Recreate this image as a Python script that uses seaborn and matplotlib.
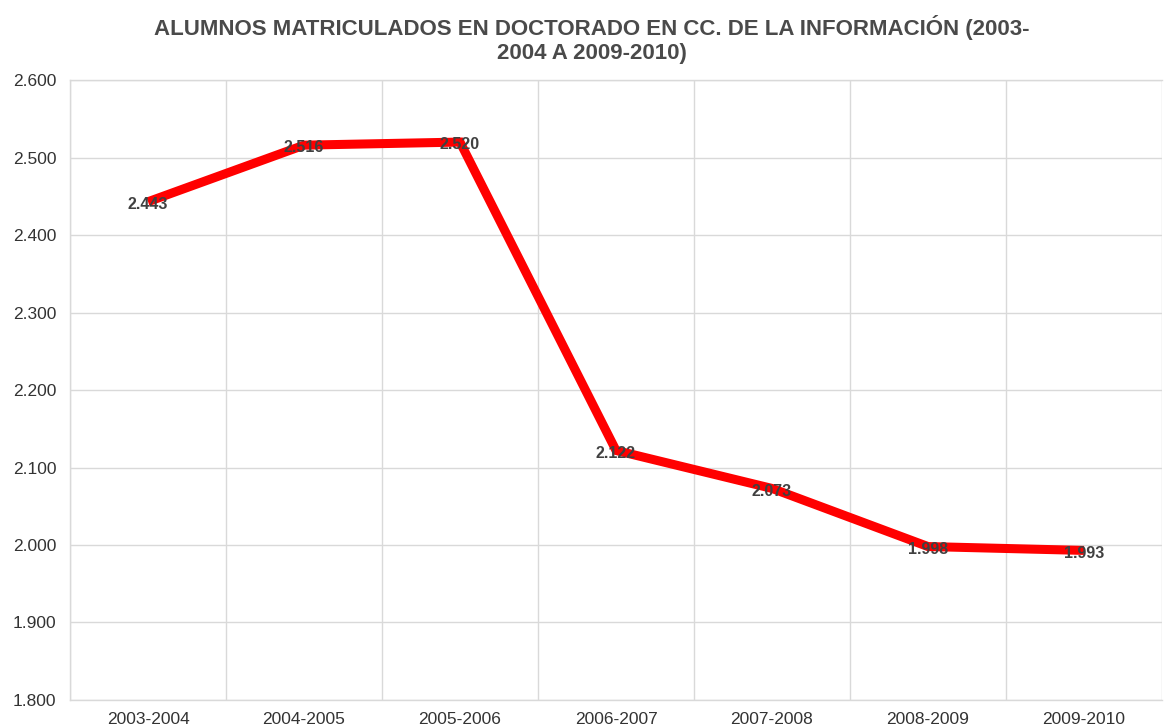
import matplotlib
matplotlib.use("Agg")
import matplotlib.pyplot as plt
import seaborn as sns
import pandas as pd
import numpy as np
from matplotlib.ticker import FixedLocator, FuncFormatter

cursos = ["2003-2004", "2004-2005", "2005-2006", "2006-2007", "2007-2008", "2008-2009", "2009-2010"]
alumnos = [2443, 2516, 2520, 2122, 2073, 1998, 1993]
etiquetas = ["2.443", "2.516", "2.520", "2.122", "2.073", "1.998", "1.993"]
titulo = "ALUMNOS MATRICULADOS EN DOCTORADO EN CC. DE LA INFORMACIÓN (2003-\n2004 A 2009-2010)"

sns.set_theme(style="white")
plt.rcParams['font.family'] = ['Liberation Sans', 'DejaVu Sans']

df = pd.DataFrame({"curso": cursos, "alumnos": alumnos, "pos": np.arange(len(cursos))})

fig = plt.figure(figsize=(11.69, 7.28), dpi=100)
ax = fig.add_axes([0.0599, 0.0385, 0.9341, 0.8515])

sns.lineplot(data=df, x="pos", y="alumnos", color="#ff0000", linewidth=6.5, ax=ax,
             solid_capstyle="butt", solid_joinstyle="miter", zorder=3)

for p, v, t in zip(df["pos"], alumnos, etiquetas):
    ax.annotate(t, (p, v), xytext=(0, -2), textcoords="offset points",
                ha="center", va="center", fontsize=11.5, fontweight="bold",
                color="#404040", zorder=4)

ax.set_xlim(-0.5, len(cursos) - 0.5)
ax.set_ylim(1800, 2600)
ax.set_yticks(np.arange(1800, 2601, 100))
ax.yaxis.set_major_formatter(FuncFormatter(lambda v, _: f"{int(v):,}".replace(",", ".")))
ax.set_xticks(df["pos"])
ax.set_xticklabels(cursos)
ax.xaxis.set_minor_locator(FixedLocator(np.arange(-0.5, len(cursos), 1.0)))

ax.grid(axis="y", which="major", color="#d9d9d9", linewidth=1)
ax.grid(axis="x", which="minor", color="#d9d9d9", linewidth=1)
ax.grid(axis="x", which="major", visible=False)
ax.set_axisbelow(True)

for s in ax.spines.values():
    s.set_color("#d9d9d9")
    s.set_linewidth(1)
ax.spines["right"].set_visible(False)

ax.tick_params(axis="both", which="both", length=0, labelsize=12.5, colors="#333333")
ax.tick_params(axis="x", pad=9)
ax.tick_params(axis="y", pad=10)
ax.set_xlabel("")
ax.set_ylabel("")

fig.suptitle(titulo, x=0.506, y=0.979, fontsize=16, fontweight="bold", color="#4a4a4a",
             linespacing=1.15, va="top")

fig.savefig("out.png", dpi=100)
